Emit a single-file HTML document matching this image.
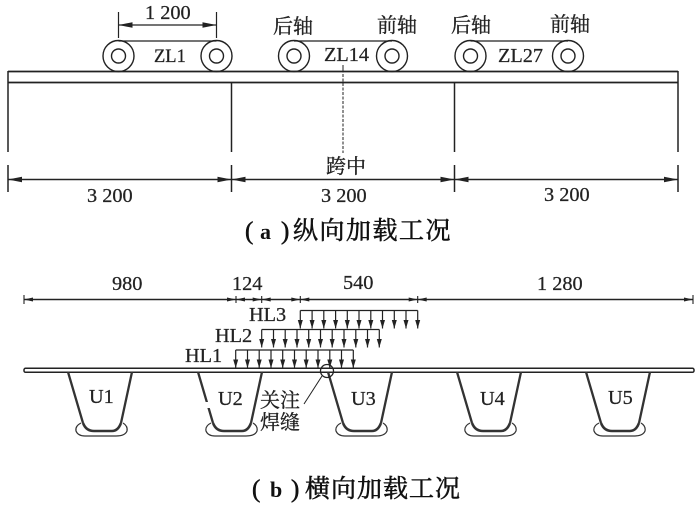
<!DOCTYPE html>
<html><head><meta charset="utf-8"><style>
html,body{margin:0;padding:0;background:#fff}
svg{display:block;filter:blur(.3px)}
text{font-family:"Liberation Serif","Noto Serif CJK SC",serif;fill:#222;stroke:#222;stroke-width:.25px;font-size:20.3px}
.c{font-size:20px;stroke-width:.35px}
.t{font-size:25px;fill:#111;stroke:#111;stroke-width:.55px}
</style></head><body>
<svg width="700" height="506" viewBox="0 0 700 506" xmlns="http://www.w3.org/2000/svg">
<defs>
<g id="w" fill="none" stroke="#222" stroke-width="1.4"><circle r="15.5"/><circle r="7"/></g>
<g id="d"><path d="M0 0V18" stroke="#222" stroke-width="1.2"/><path d="M-2.500 9.500H2.500L0 18Z" fill="#222"/></g>
<path id="al" d="M0 0L14 -2.800V2.800Z" fill="#222"/>
<path id="ar" d="M0 0L-14 -2.800V2.800Z" fill="#222"/>
<path id="sl" d="M0 0L9 -2V2Z" fill="#222"/>
<path id="sr" d="M0 0L-9 -2V2Z" fill="#222"/>
<g id="u" fill="none" stroke="#333">
<path d="M0 372L15 423M64 372L53 423" stroke-width="2.300"/>
<path d="M15 423Q18 431 26 431H44Q50 431 53 423" stroke-width="2.500"/>
<path d="M13 423Q7 426 8 431Q10 436 17 436H48Q57 436 59 431Q60 426 55 423" stroke-width="1.200"/>
</g>
</defs>

<!-- top beam -->
<path d="M8 71.500H678M8 82.500H678" stroke="#222" stroke-width="1.800" fill="none"/>
<path d="M8 71V152M8 165V192M231.500 82V152M231.500 165V192M454.500 82V152M454.500 165V192M678 71V152M678 165V192" stroke="#222" stroke-width="1.500" fill="none"/>
<path d="M8 179.500H678" stroke="#222" stroke-width="1.400"/>
<use href="#al" x="8" y="179.500"/><use href="#ar" x="231.500" y="179.500"/>
<use href="#al" x="231.500" y="179.500"/><use href="#ar" x="454.500" y="179.500"/>
<use href="#al" x="454.500" y="179.500"/><use href="#ar" x="678" y="179.500"/>
<path d="M343 65V153" stroke="#222" stroke-width="1" stroke-dasharray="3 1.500"/>

<!-- wheels -->
<use href="#w" x="118.500" y="56"/><use href="#w" x="216.500" y="56"/>
<use href="#w" x="294" y="56"/><use href="#w" x="392" y="56"/>
<use href="#w" x="470.500" y="56"/><use href="#w" x="568" y="56"/>
<path d="M118.500 41H216.500M294 41H392M470.500 41H568" stroke="#222" stroke-width="1.300"/>
<path d="M118.500 12V38M216.500 12V38" stroke="#222" stroke-width="1.200"/>
<path d="M118.500 25H216.500" stroke="#222" stroke-width="1.300"/>
<use href="#al" x="118.500" y="25"/><use href="#ar" x="216.500" y="25"/>

<!-- top labels -->
<text x="145" y="19">1 200</text>
<rect x="150" y="44" width="40" height="20" fill="#fff"/>
<text x="154" y="62" style="font-size:18.500px">ZL1</text>
<rect x="320" y="44" width="48" height="20" fill="#fff"/>
<text x="324" y="61">ZL14</text><path d="M343 65V72" stroke="#222" stroke-width="1"/>
<rect x="496" y="44" width="48" height="20" fill="#fff"/>
<text x="498" y="62">ZL27</text>
<text class="c" x="273" y="33">后轴</text>
<text class="c" x="377" y="32">前轴</text>
<text class="c" x="451" y="32">后轴</text>
<text class="c" x="550" y="31">前轴</text>
<text class="c" x="326" y="173">跨中</text>
<text x="87" y="202">3 200</text>
<text x="321" y="202">3 200</text>
<text x="544" y="201">3 200</text>
<text class="t" x="245" y="239">(</text>
<text class="t" x="260" y="239" style="font-weight:700;font-size:22px;stroke-width:0">a</text>
<text class="t" x="281" y="239">)</text>
<text class="t" x="293" y="239" style="letter-spacing:1.500px">纵向加载工况</text>

<!-- bottom dimension -->
<path d="M24 299.500H693" stroke="#222" stroke-width="1.600"/>
<path d="M24 295V304M236 296V303M261.700 296V303M300.300 296V303M417.700 296V303M693 295V304" stroke="#222" stroke-width="1.100"/>
<use href="#sl" x="24" y="299.500"/><use href="#sr" x="236" y="299.500"/><use href="#sl" x="236" y="299.500"/>
<use href="#sr" x="261.700" y="299.500"/><use href="#sl" x="261.700" y="299.500"/>
<use href="#sr" x="300.300" y="299.500"/><use href="#sl" x="300.300" y="299.500"/>
<use href="#sr" x="417.700" y="299.500"/><use href="#sl" x="417.700" y="299.500"/>
<use href="#sr" x="693" y="299.500"/>
<text x="112" y="290">980</text>
<text x="232" y="290">124</text>
<text x="343" y="289">540</text>
<text x="537" y="290">1 280</text>

<!-- load groups -->
<path d="M300.300 310.500H417.700M261.700 329.500H379.300M235.700 350H353.300" stroke="#222" stroke-width="1.300"/>
<use href="#d" x="300.300" y="310.500"/><use href="#d" x="312.100" y="310.500"/><use href="#d" x="323.800" y="310.500"/><use href="#d" x="335.600" y="310.500"/><use href="#d" x="347.300" y="310.500"/><use href="#d" x="359" y="310.500"/><use href="#d" x="370.800" y="310.500"/><use href="#d" x="382.500" y="310.500"/><use href="#d" x="394.300" y="310.500"/><use href="#d" x="406" y="310.500"/><use href="#d" x="417.700" y="310.500"/>
<use href="#d" x="261.700" y="329.500"/><use href="#d" x="273.500" y="329.500"/><use href="#d" x="285.200" y="329.500"/><use href="#d" x="297" y="329.500"/><use href="#d" x="308.700" y="329.500"/><use href="#d" x="320.500" y="329.500"/><use href="#d" x="332.200" y="329.500"/><use href="#d" x="344" y="329.500"/><use href="#d" x="355.800" y="329.500"/><use href="#d" x="367.500" y="329.500"/><use href="#d" x="379.300" y="329.500"/>
<use href="#d" x="235.700" y="350"/><use href="#d" x="247.500" y="350"/><use href="#d" x="259.200" y="350"/><use href="#d" x="271" y="350"/><use href="#d" x="282.700" y="350"/><use href="#d" x="294.500" y="350"/><use href="#d" x="306.200" y="350"/><use href="#d" x="318" y="350"/><use href="#d" x="329.800" y="350"/><use href="#d" x="341.500" y="350"/><use href="#d" x="353.300" y="350"/>
<text x="249" y="321">HL3</text>
<text x="215" y="342">HL2</text>
<text x="185" y="362">HL1</text>

<!-- deck -->
<rect x="24" y="368.300" width="670" height="4" rx="1.500" fill="#fff" stroke="#222" stroke-width="1.500"/>
<use href="#u" x="68" y="0"/><use href="#u" x="198" y="0"/><use href="#u" x="328" y="0"/><use href="#u" x="457" y="0"/><use href="#u" x="586" y="0"/>
<rect x="204" y="402" width="12" height="6" fill="#fff"/>
<text x="89" y="403">U1</text>
<text x="218" y="405">U2</text>
<text x="351" y="405">U3</text>
<text x="480" y="405">U4</text>
<text x="608" y="404">U5</text>
<circle cx="327" cy="371" r="6.500" fill="none" stroke="#222" stroke-width="1.300"/>
<path d="M322 376L304 404" stroke="#222" stroke-width="1"/>
<text class="c" x="260" y="407">关注</text>
<text class="c" x="260" y="429">焊缝</text>
<text class="t" x="252" y="497">(</text>
<text class="t" x="270" y="497" style="font-weight:700;font-size:22px;stroke-width:0">b</text>
<text class="t" x="291" y="497">)</text>
<text class="t" x="305" y="497" style="letter-spacing:1px">横向加载工况</text>
</svg>
</body></html>
